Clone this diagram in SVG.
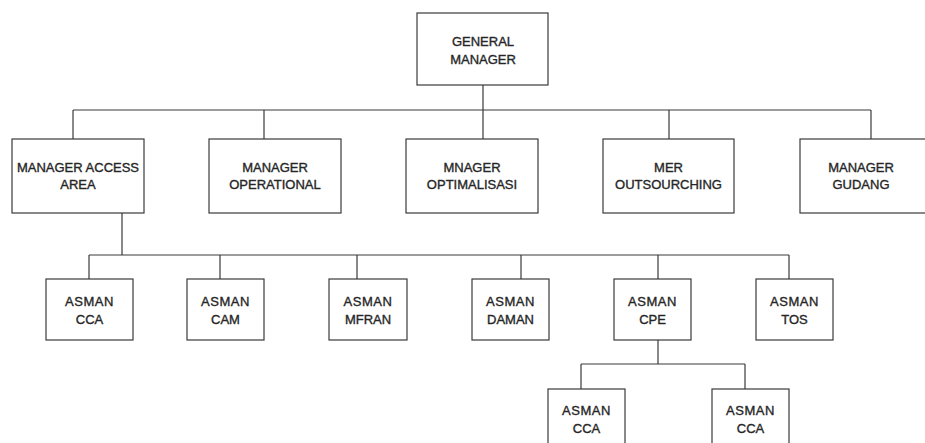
<svg xmlns="http://www.w3.org/2000/svg" width="925" height="443" viewBox="0 0 925 443">
<style>
.box{fill:#fff;stroke:#3a3a3a;stroke-width:1.2}
.lbl{font-family:"Liberation Sans",Arial,sans-serif;font-size:13px;fill:#262626;stroke:#262626;stroke-width:0.35;text-anchor:middle}
.sp{letter-spacing:0.6px}
.conn{fill:none;stroke:#3a3a3a;stroke-width:1.2}
</style>
<rect width="925" height="443" fill="#fff"/>
<g id="connectors">
<path class="conn" d="M483 85V110M73 110H871M73 110V139M264 110V139M483 110V139M669 110V139M871 110V139"/>
<path class="conn" d="M122 213V255M89 255H789M89 255V279M220 255V279M357 255V279M521 255V279M658 255V279M789 255V279"/>
<path class="conn" d="M658 340V364M581 364H745M581 364V389M745 364V389"/>
</g>
<g id="gm"><rect class="box" x="417" y="13" width="131" height="72"/><text class="lbl" x="483" y="45.5">GENERAL</text><text class="lbl" x="483" y="63.5">MANAGER</text></g>
<g id="m-access"><rect class="box" x="12" y="139" width="132" height="74"/><text class="lbl" x="78" y="172">MANAGER ACCESS</text><text class="lbl" x="78" y="189">AREA</text></g>
<g id="m-operational"><rect class="box" x="209" y="139" width="132" height="74"/><text class="lbl" x="275" y="172">MANAGER</text><text class="lbl" x="275" y="189">OPERATIONAL</text></g>
<g id="m-optimalisasi"><rect class="box" x="406" y="139" width="132" height="74"/><text class="lbl" x="472" y="172">MNAGER</text><text class="lbl" x="472" y="189">OPTIMALISASI</text></g>
<g id="m-outsourcing"><rect class="box" x="603" y="139" width="131" height="74"/><text class="lbl" x="668.5" y="172">MER</text><text class="lbl" x="668.5" y="189">OUTSOURCHING</text></g>
<g id="m-gudang"><rect class="box" x="800" y="139" width="132" height="74"/><text class="lbl" x="861" y="172">MANAGER</text><text class="lbl" x="861" y="189">GUDANG</text></g>
<g id="a-cca"><rect class="box" x="46" y="279" width="87" height="61"/><text class="lbl sp" x="89.5" y="305.5">ASMAN</text><text class="lbl" x="89.5" y="323.5">CCA</text></g>
<g id="a-cam"><rect class="box" x="187" y="279" width="77" height="61"/><text class="lbl sp" x="225.5" y="305.5">ASMAN</text><text class="lbl" x="225.5" y="323.5">CAM</text></g>
<g id="a-mfran"><rect class="box" x="329" y="279" width="78" height="61"/><text class="lbl sp" x="368" y="305.5">ASMAN</text><text class="lbl" x="368" y="323.5">MFRAN</text></g>
<g id="a-daman"><rect class="box" x="472" y="279" width="77" height="61"/><text class="lbl sp" x="510.5" y="305.5">ASMAN</text><text class="lbl" x="510.5" y="323.5">DAMAN</text></g>
<g id="a-cpe"><rect class="box" x="614" y="279" width="77" height="61"/><text class="lbl sp" x="652.5" y="305.5">ASMAN</text><text class="lbl" x="652.5" y="323.5">CPE</text></g>
<g id="a-tos"><rect class="box" x="756" y="279" width="77" height="61"/><text class="lbl sp" x="794.5" y="305.5">ASMAN</text><text class="lbl" x="794.5" y="323.5">TOS</text></g>
<g id="a-cca2"><rect class="box" x="548" y="389" width="77" height="61"/><text class="lbl sp" x="586.5" y="414.5">ASMAN</text><text class="lbl" x="586.5" y="432.5">CCA</text></g>
<g id="a-cca3"><rect class="box" x="712" y="389" width="77" height="61"/><text class="lbl sp" x="750.5" y="414.5">ASMAN</text><text class="lbl" x="750.5" y="432.5">CCA</text></g>
</svg>
